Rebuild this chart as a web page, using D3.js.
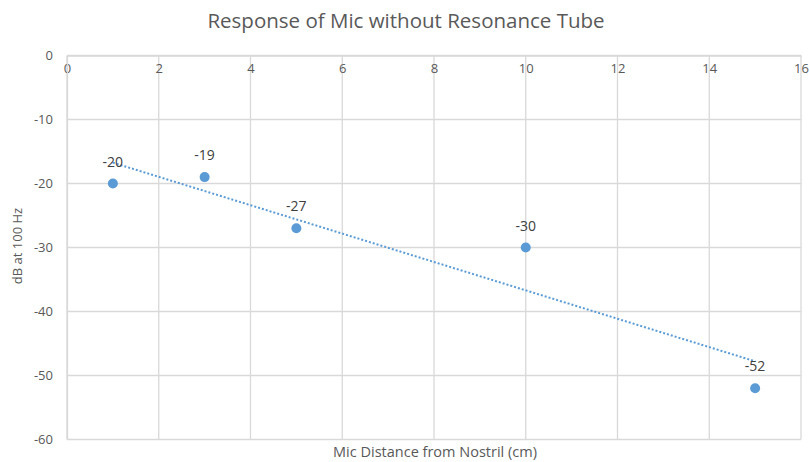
<!DOCTYPE html>
<html>
<head>
<meta charset="utf-8">
<script src="https://cdn.jsdelivr.net/npm/d3@7"></script>
<style>
  body { margin: 0; background: #fff; }
  text { font-family: "Open Sans", "Liberation Sans", sans-serif; }
</style>
</head>
<body>
<div id="my_dataviz"></div>
<script>
// data
var distances = [1, 3, 5, 10, 15];
var dbValues = [-20, -19, -27, -30, -52];
var xTicks = [0, 2, 4, 6, 8, 10, 12, 14, 16];
var yTicks = [0, -10, -20, -30, -40, -50, -60];

var W = 810, H = 462;
var margin = {top: 55.5, right: 9, bottom: 22.5, left: 67},
    width = W - margin.left - margin.right,
    height = H - margin.top - margin.bottom;

var fmt = function(d) { return String(d); };

var svg = d3.select("#my_dataviz")
  .append("svg")
    .attr("width", W)
    .attr("height", H);

var g = svg.append("g")
    .attr("transform", "translate(" + margin.left + "," + margin.top + ")");

var x = d3.scaleLinear().domain([0, 16]).range([0, width]);
var y = d3.scaleLinear().domain([-60, 0]).range([height, 0]);

// gridlines
g.append("g").selectAll("line").data(yTicks).enter().append("line")
    .attr("x1", 0).attr("x2", width)
    .attr("y1", function(d) { return y(d); }).attr("y2", function(d) { return y(d); })
    .attr("stroke", "#d9d9d9").attr("stroke-width", 1.3);
g.append("g").selectAll("line").data(xTicks).enter().append("line")
    .attr("y1", 0).attr("y2", height)
    .attr("x1", function(d) { return x(d); }).attr("x2", function(d) { return x(d); })
    .attr("stroke", "#d9d9d9").attr("stroke-width", 1.3);

// x axis (sits on y = 0, at top)
var xAxis = g.append("g")
  .call(d3.axisBottom(x).tickValues(xTicks).tickFormat(fmt).tickSize(0).tickPadding(8));
xAxis.select(".domain").attr("stroke", "#d9d9d9").attr("stroke-width", 1.3);
xAxis.selectAll("text").attr("fill", "#595959").style("font-size", "13px");

// y axis
var yAxis = g.append("g")
  .call(d3.axisLeft(y).tickValues(yTicks).tickFormat(fmt).tickSize(0).tickPadding(14));
yAxis.select(".domain").attr("stroke", "#d9d9d9").attr("stroke-width", 1.3);
yAxis.selectAll("text").attr("fill", "#595959").style("font-size", "13px");

// title
svg.append("text")
  .text("Response of Mic without Resonance Tube")
  .attr("x", 406).attr("y", 28)
  .attr("text-anchor", "middle")
  .attr("fill", "#595959")
  .style("font-size", "20.5px");

// axis titles
svg.append("text")
  .text("Mic Distance from Nostril (cm)")
  .attr("x", 435).attr("y", 457)
  .attr("text-anchor", "middle")
  .attr("fill", "#595959")
  .style("font-size", "14.5px");

svg.append("text")
  .text("dB at 100 Hz")
  .attr("transform", "translate(22,246) rotate(-90)")
  .attr("text-anchor", "middle")
  .attr("fill", "#595959")
  .style("font-size", "13px");

var pts = distances.map(function(d, i) { return {x: d, y: dbValues[i]}; });

// linear trendline (least squares)
var mx = d3.mean(distances), my = d3.mean(dbValues);
var sxy = d3.sum(pts, function(p) { return (p.x - mx) * (p.y - my); });
var sxx = d3.sum(pts, function(p) { return (p.x - mx) * (p.x - mx); });
var slope = sxy / sxx, icpt = my - slope * mx;
var ends = d3.extent(distances);
g.append("path")
  .datum(ends)
  .attr("d", d3.line()
    .x(function(d) { return x(d); })
    .y(function(d) { return y(icpt + slope * d); }))
  .attr("stroke", "#5b9bd5")
  .attr("stroke-width", 2)
  .attr("stroke-dasharray", "2,2")
  .attr("fill", "none");

// points
g.selectAll("circle.pt").data(pts).enter().append("circle")
  .attr("class", "pt")
  .attr("cx", function(d) { return x(d.x); })
  .attr("cy", function(d) { return y(d.y); })
  .attr("r", 5)
  .attr("fill", "#5b9bd5");

// data labels
g.selectAll("text.lbl").data(pts).enter().append("text")
  .attr("class", "lbl")
  .text(function(d) { return fmt(d.y); })
  .attr("x", function(d) { return x(d.x); })
  .attr("y", function(d) { return y(d.y) - 17; })
  .attr("text-anchor", "middle")
  .attr("fill", "#404040")
  .style("font-size", "14px");
</script>
</body>
</html>
